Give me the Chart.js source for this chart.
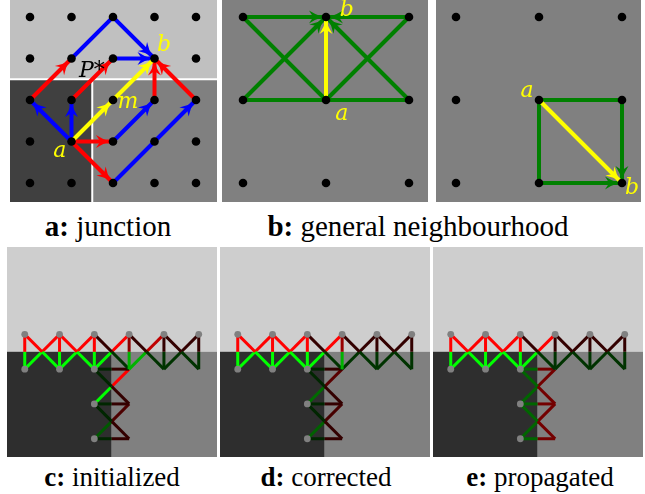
<!DOCTYPE html>
<html>
<head>
<meta charset="utf-8">
<script src="https://cdn.jsdelivr.net/npm/chart.js@4.4.1/dist/chart.umd.min.js"></script>
<style>
html,body{margin:0;padding:0;background:#fff}
#fig{position:relative;width:645px;height:494px;overflow:hidden;color:#000;font-family:"Liberation Serif",serif}
.panel{position:absolute}
.panel canvas{display:block}
.cap{position:absolute;white-space:nowrap;transform:translateX(-50%)}
.cap.top{font-size:29px;line-height:29px}
.cap.low{font-size:27px;line-height:27px}
</style>
</head>
<body>
<div id="fig">
  <div class="panel" style="left:10px;top:0;width:207px;height:202px"><canvas id="junction" width="207" height="202"></canvas></div>
  <div class="panel" style="left:222px;top:0;width:206px;height:202px"><canvas id="neigh" width="206" height="202"></canvas></div>
  <div class="panel" style="left:436px;top:0;width:205px;height:202px"><canvas id="diag" width="205" height="202"></canvas></div>
  <div class="panel" style="left:7px;top:247px;width:210px;height:210px"><canvas id="init" width="210" height="210"></canvas></div>
  <div class="panel" style="left:220px;top:247px;width:210px;height:210px"><canvas id="corr" width="210" height="210"></canvas></div>
  <div class="panel" style="left:433px;top:247px;width:210px;height:210px"><canvas id="prop" width="210" height="210"></canvas></div>
  <div class="cap top" style="left:108px;top:212px"><b>a:</b> junction</div>
  <div class="cap top" style="left:418px;top:212px"><b>b:</b> general neighbourhood</div>
  <div class="cap low" style="left:112px;top:464px"><b>c:</b> initialized</div>
  <div class="cap low" style="left:326px;top:464px"><b>d:</b> corrected</div>
  <div class="cap low" style="left:540px;top:464px"><b>e:</b> propagated</div>
</div>
<script>
// ---------- junction grid (lattice units) ----------
const junctionCols = [0, 1, 2, 3, 4];
const junctionRows = [0, 1, 2, 3, 4];
const junctionEdgeX = 1.5;   // region border between the two lower regions
const junctionEdgeY = 1.5;   // region border below the upper region
// paths from a towards b, each ends in an arrow head
const junctionBlue = [
  [[1, 3], [0, 2]],
  [[1, 3], [1, 2]],
  [[1, 1], [2, 0], [3, 1]],
  [[2, 1], [3, 1]],
  [[2, 3], [3, 2]],
  [[2, 4], [3, 3], [4, 2]]
];
const junctionRed = [
  [[1, 3], [2, 3]],
  [[1, 3], [2, 4]],
  [[0, 2], [1, 1]],
  [[1, 2], [2, 1]],
  [[3, 2], [3, 1]],
  [[4, 2], [3, 1]]
];
const junctionYellow = [
  [[1, 3], [2, 2]],
  [[2, 2], [3, 1]]
];

// ---------- general neighbourhood (lattice units) ----------
const neighCols = [0, 1, 2];
const neighRows = [0, 1, 2];
const neighGreenArrows = [
  [[0, 0], [1, 0]],
  [[2, 0], [1, 0]],
  [[0, 1], [1, 0]],
  [[2, 1], [1, 0]]
];
const neighGreenPlain = [
  [[0, 0], [1, 1]],
  [[2, 0], [1, 1]],
  [[0, 1], [2, 1]]
];
const neighYellow = [[[1, 1], [1, 0]]];
const diagGreenArrows = [
  [[1, 1], [2, 1], [2, 2]],
  [[1, 1], [1, 2], [2, 2]]
];
const diagYellow = [[[1, 1], [2, 2]]];

// ---------- ladder graph along the region borders ----------
const ladderEdgeX = 2.5;
const ladderEdgeY = 0.5;
const ladderNodes = [[0, 0], [1, 0], [2, 0], [3, 0], [4, 0], [5, 0], [0, 1], [1, 1], [2, 1], [2, 2], [2, 3]];
// each edge: [red end, green end]; the halves meet at the edge midpoint
const ladderEdges = [
  [[0, 0], [0, 1]], [[1, 0], [1, 1]], [[2, 0], [2, 1]], [[3, 0], [3, 1]], [[4, 0], [4, 1]], [[5, 0], [5, 1]],
  [[0, 0], [1, 1]], [[1, 0], [2, 1]], [[2, 0], [3, 1]], [[3, 0], [4, 1]], [[4, 0], [5, 1]],
  [[1, 0], [0, 1]], [[2, 0], [1, 1]], [[3, 0], [2, 1]], [[4, 0], [3, 1]], [[5, 0], [4, 1]],
  [[3, 1], [2, 1]], [[3, 2], [2, 2]], [[3, 3], [2, 3]],
  [[3, 2], [2, 1]], [[3, 3], [2, 2]],
  [[3, 1], [2, 2]], [[3, 2], [2, 3]]
];
// edge weights (0..1) for the red and green half of every edge
const initRed   = [1, 1, 1, 0.55, 0.2, 0.2,  1, 1, 0.2, 0.2, 0.2,  1, 1, 1, 0.75, 0.2,  0.2, 0.2, 0.2,  0.2, 0.2,  1, 0.3];
const initGreen = [1, 1, 1, 0.7, 0.2, 0.2,   1, 1, 0.2, 0.2, 0.2,  1, 1, 1, 0.7, 0.2,   0.15, 0.15, 0.15,  0.15, 0.15,  1, 0.35];
const corrRed   = [1, 1, 1, 0.6, 0.2, 0.2,   1, 1, 0.2, 0.2, 0.2,  1, 1, 1, 0.2, 0.2,   0.2, 0.2, 0.2,  0.2, 0.2,  0.35, 0.28];
const corrGreen = [1, 1, 1, 0.7, 0.2, 0.2,   1, 1, 0.2, 0.2, 0.2,  1, 1, 1, 0.2, 0.2,   0.15, 0.15, 0.15,  0.15, 0.15,  0.42, 0.38];
const propRed   = [1, 1, 1, 0.2, 0.2, 0.2,   1, 1, 0.2, 0.2, 0.2,  1, 1, 1, 0.2, 0.2,   0.45, 0.45, 0.45,  0.45, 0.45,  0.45, 0.45];
const propGreen = [1, 1, 1, 0.2, 0.2, 0.2,   1, 1, 0.2, 0.2, 0.2,  1, 1, 1, 0.2, 0.2,   0.4, 0.4, 0.4,  0.4, 0.4,  0.4, 0.4];

// ---------- drawing helpers ----------
const pt = ([x, y]) => ({ x, y });
const redOf = w => `rgb(${Math.round(255 * w)},0,0)`;
const greenOf = w => `rgb(0,${Math.round(255 * w)},0)`;

function pathSets(paths, color, width, head, order) {
  return paths.map(p => ({
    data: p.map(pt), showLine: true, borderColor: color, backgroundColor: color,
    borderWidth: width, borderCapStyle: 'butt', pointRadius: 0, pointHoverRadius: 0,
    head, order, clip: false
  }));
}
function dotSet(points, color, r) {
  return {
    data: points.map(pt), showLine: false, pointRadius: r, pointHoverRadius: r,
    pointBackgroundColor: color, pointBorderColor: color, pointBorderWidth: 0,
    borderColor: color, order: 0, clip: false
  };
}
function grid(cols, rows) {
  const out = [];
  rows.forEach(r => cols.forEach(c => out.push([c, r])));
  return out;
}

// background regions and white seams, given in data units (null = panel edge)
const regionPlugin = {
  id: 'regions',
  beforeDatasetsDraw(chart, args, opts) {
    const { ctx, chartArea: a, scales: { x, y } } = chart;
    const X = (v, d) => v == null ? d : x.getPixelForValue(v);
    const Y = (v, d) => v == null ? d : y.getPixelForValue(v);
    ctx.save();
    (opts.fills || []).forEach(r => {
      const x0 = X(r.x0, a.left), x1 = X(r.x1, a.right), y0 = Y(r.y0, a.top), y1 = Y(r.y1, a.bottom);
      ctx.fillStyle = r.color;
      ctx.fillRect(x0, y0, x1 - x0, y1 - y0);
    });
    (opts.seams || []).forEach(s => {
      ctx.strokeStyle = '#ffffff';
      ctx.lineWidth = 2;
      ctx.beginPath();
      ctx.moveTo(X(s.x0, a.left), Y(s.y0, a.top));
      ctx.lineTo(X(s.x1, a.right), Y(s.y1, a.bottom));
      ctx.stroke();
    });
    ctx.restore();
  }
};

// arrow head at the last point of a dataset flagged with `head`
const headPlugin = {
  id: 'heads',
  afterDatasetDraw(chart, args, opts) {
    const ds = chart.data.datasets[args.index];
    if (!ds.head) return;
    const pts = args.meta.data, n = pts.length;
    const p = pts[n - 2], q = pts[n - 1];
    const ang = Math.atan2(q.y - p.y, q.x - p.x);
    const L = opts.length, H = opts.half, g = opts.gap;
    const ctx = chart.ctx;
    ctx.save();
    ctx.translate(q.x - Math.cos(ang) * g, q.y - Math.sin(ang) * g);
    ctx.rotate(ang);
    ctx.beginPath();
    ctx.moveTo(0, 0);
    ctx.quadraticCurveTo(-L * 0.5, -H * 0.3, -L, -H);
    ctx.lineTo(-L * 0.7, 0);
    ctx.lineTo(-L, H);
    ctx.quadraticCurveTo(-L * 0.5, H * 0.3, 0, 0);
    ctx.closePath();
    ctx.fillStyle = ds.borderColor;
    ctx.fill();
    ctx.restore();
  }
};

// point names written next to the lattice nodes
const tagPlugin = {
  id: 'tags',
  afterDraw(chart, args, opts) {
    const { ctx, scales: { x, y } } = chart;
    (opts.items || []).forEach(t => {
      ctx.save();
      ctx.font = t.font;
      ctx.fillStyle = t.color;
      ctx.textAlign = 'center';
      ctx.textBaseline = 'middle';
      ctx.fillText(t.text, x.getPixelForValue(t.x), y.getPixelForValue(t.y));
      ctx.restore();
    });
  }
};

function build(id, xr, yr, datasets, pluginOpts) {
  return new Chart(document.getElementById(id), {
    type: 'scatter',
    data: { datasets },
    options: {
      responsive: false, animation: false, devicePixelRatio: 1, events: [],
      layout: { padding: 0, autoPadding: false },
      scales: {
        x: { type: 'linear', min: xr[0], max: xr[1], display: false },
        y: { type: 'linear', min: yr[0], max: yr[1], reverse: true, display: false }
      },
      plugins: Object.assign({ legend: { display: false }, tooltip: { enabled: false } }, pluginOpts)
    },
    plugins: [regionPlugin, headPlugin, tagPlugin]
  });
}

const YELLOW = '#ffff00', BLUE = '#0000ff', RED = '#ff0000', GREEN = '#008000';
const tagFont = 'italic 22px "DejaVu Serif"';
const bigHead = { length: 14, half: 6.5, gap: 3 };

// ---------- a: junction ----------
build('junction', [-0.482, 4.506], [-0.41, 4.458], [
  dotSet(grid(junctionCols, junctionRows), '#000000', 4.3),
  ...pathSets(junctionYellow, YELLOW, 4, true, 1),
  ...pathSets(junctionRed, RED, 4, true, 2),
  ...pathSets(junctionBlue, BLUE, 4, true, 2)
], {
  regions: {
    fills: [
      { y1: junctionEdgeY, color: '#c0c0c0' },
      { x1: junctionEdgeX, y0: junctionEdgeY, color: '#404040' },
      { x0: junctionEdgeX, y0: junctionEdgeY, color: '#808080' }
    ],
    seams: [
      { y0: junctionEdgeY, y1: junctionEdgeY },
      { x0: junctionEdgeX, x1: junctionEdgeX, y0: junctionEdgeY }
    ]
  },
  heads: bigHead,
  tags: {
    items: [
      { text: 'a', x: 0.72, y: 3.23, color: YELLOW, font: tagFont },
      { text: 'b', x: 3.23, y: 0.67, color: YELLOW, font: tagFont },
      { text: 'm', x: 2.36, y: 2.05, color: YELLOW, font: tagFont },
      { text: 'P*', x: 1.49, y: 1.3, color: '#000000', font: 'italic 22px "DejaVu Serif"' }
    ]
  }
});

// ---------- b: general neighbourhood ----------
build('neigh', [-0.253, 2.229], [-0.205, 2.229], [
  dotSet(grid(neighCols, neighRows), '#000000', 4.3),
  ...pathSets(neighYellow, YELLOW, 4, true, 1),
  ...pathSets(neighGreenArrows, GREEN, 4, true, 2),
  ...pathSets(neighGreenPlain, GREEN, 4, false, 2)
], {
  regions: { fills: [{ color: '#808080' }] },
  heads: bigHead,
  tags: {
    items: [
      { text: 'b', x: 1.25, y: -0.08, color: YELLOW, font: tagFont },
      { text: 'a', x: 1.19, y: 1.17, color: YELLOW, font: tagFont }
    ]
  }
});

build('diag', [-0.241, 2.229], [-0.205, 2.229], [
  dotSet(grid(neighCols, neighRows), '#000000', 4.3),
  ...pathSets(diagYellow, YELLOW, 4, true, 1),
  ...pathSets(diagGreenArrows, GREEN, 4, true, 2)
], {
  regions: { fills: [{ color: '#808080' }] },
  heads: bigHead,
  tags: {
    items: [
      { text: 'a', x: 0.855, y: 0.89, color: YELLOW, font: tagFont },
      { text: 'b', x: 2.12, y: 2.06, color: YELLOW, font: tagFont }
    ]
  }
});

// ---------- c, d, e: ladder weights ----------
function ladderSets(redW, greenW) {
  const sets = [];
  ladderEdges.forEach(([r, g], i) => {
    const mid = [(r[0] + g[0]) / 2, (r[1] + g[1]) / 2];
    sets.push(...pathSets([[r, mid]], redOf(redW[i]), 3, false, 1));
    sets.push(...pathSets([[mid, g]], greenOf(greenW[i]), 3, false, 1));
  });
  sets.push(dotSet(ladderNodes, '#808080', 3.4));
  return sets;
}
const ladderRegions = {
  fills: [
    { y1: ladderEdgeY, color: '#cecece' },
    { x1: ladderEdgeX, y0: ladderEdgeY, color: '#2e2e2e' },
    { x0: ladderEdgeX, y0: ladderEdgeY, color: '#808080' }
  ]
};
const ladderX = [-0.51, 5.525], ladderY = [-2.51, 3.525];
build('init', ladderX, ladderY, ladderSets(initRed, initGreen), { regions: ladderRegions });
build('corr', ladderX, ladderY, ladderSets(corrRed, corrGreen), { regions: ladderRegions });
build('prop', ladderX, ladderY, ladderSets(propRed, propGreen), { regions: ladderRegions });
</script>
</body>
</html>
